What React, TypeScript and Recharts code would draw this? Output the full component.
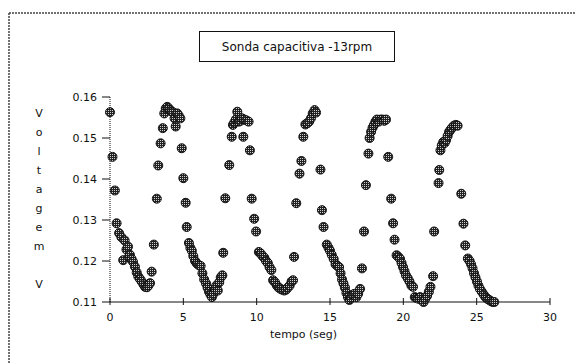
import React from 'react';
import { ScatterChart, Scatter, XAxis, YAxis } from 'recharts';

const time = [
  0.0, 0.17, 0.33, 0.45, 0.62, 0.78, 0.9, 1.0, 1.12, 1.23, 1.3, 1.36, 1.47, 1.57, 1.7, 1.82, 1.93, 2.05, 2.16, 2.28,
  2.39, 2.52, 2.62, 2.73, 2.84, 2.99, 3.19, 3.29, 3.45, 3.6, 3.7, 3.8, 3.9, 4.0, 4.1, 4.2, 4.3, 4.4, 4.48, 4.58,
  4.68, 4.8, 4.89, 5.0, 5.16, 5.23, 5.38, 5.48, 5.58, 5.68, 5.8, 5.92, 6.05, 6.18, 6.3, 6.42, 6.55, 6.65, 6.75, 6.85,
  6.95, 7.05, 7.15, 7.25, 7.35, 7.45, 7.55, 7.66, 7.72, 7.86, 8.13, 8.3, 8.38, 8.48, 8.58, 8.68, 8.78, 8.9, 9.0, 9.09,
  9.15, 9.3, 9.45, 9.54, 9.66, 9.83, 9.96, 10.15, 10.28, 10.4, 10.52, 10.64, 10.76, 10.88, 11.0, 11.12, 11.25, 11.38, 11.5, 11.62,
  11.75, 11.88, 12.0, 12.12, 12.25, 12.38, 12.48, 12.55, 12.7, 12.92, 13.05, 13.18, 13.32, 13.45, 13.58, 13.7, 13.82, 13.95, 14.05, 14.35,
  14.45, 14.56, 14.78, 14.9, 15.0, 15.12, 15.25, 15.38, 15.5, 15.62, 15.72, 15.82, 15.92, 16.02, 16.12, 16.22, 16.32, 16.42, 16.55, 16.68,
  16.8, 16.92, 17.05, 17.18, 17.32, 17.45, 17.62, 17.7, 17.8, 17.9, 18.0, 18.1, 18.2, 18.32, 18.45, 18.58, 18.7, 18.82, 18.97, 19.17,
  19.3, 19.4, 19.54, 19.66, 19.78, 19.88, 19.98, 20.08, 20.18, 20.3, 20.42, 20.55, 20.66, 20.78, 20.9, 21.02, 21.14, 21.26, 21.38, 21.5,
  21.62, 21.74, 21.85, 22.03, 22.1, 22.4, 22.45, 22.53, 22.62, 22.72, 22.82, 22.92, 23.02, 23.12, 23.22, 23.32, 23.45, 23.58, 23.7, 23.95,
  24.1, 24.22, 24.4, 24.52, 24.62, 24.72, 24.82, 24.92, 25.02, 25.12, 25.22, 25.35, 25.48, 25.6, 25.72, 25.85, 25.98, 26.1, 26.2,
];

const voltage = [
  0.1563, 0.1454, 0.1372, 0.1292, 0.1268, 0.1258, 0.1202, 0.125, 0.1228, 0.1235, 0.121, 0.1215, 0.1205, 0.1198, 0.1186, 0.1172, 0.1162, 0.1156, 0.115, 0.1143,
  0.1137, 0.1136, 0.114, 0.1146, 0.1174, 0.124, 0.1352, 0.1433, 0.1487, 0.1524, 0.156, 0.1572, 0.1576, 0.1572, 0.1568, 0.1565, 0.1562, 0.1548, 0.1528, 0.156,
  0.1555, 0.1548, 0.1475, 0.1402, 0.1342, 0.1283, 0.1244, 0.1232, 0.1225, 0.1212, 0.12, 0.1194, 0.119, 0.1188, 0.117, 0.1155, 0.1145, 0.1135, 0.1125, 0.1118,
  0.1112, 0.112, 0.113, 0.114, 0.1128, 0.1148, 0.116, 0.1165, 0.122, 0.1353, 0.1434, 0.1503, 0.1532, 0.1538, 0.1545, 0.1564, 0.154, 0.1542, 0.1548, 0.1503,
  0.1545, 0.1543, 0.154, 0.147, 0.1352, 0.1303, 0.1272, 0.1222, 0.1218, 0.1212, 0.1208, 0.12, 0.1195, 0.1185, 0.1178, 0.1153, 0.1148, 0.114, 0.1135, 0.1132,
  0.113, 0.1128, 0.113, 0.1135, 0.114, 0.115, 0.1153, 0.121, 0.1341, 0.1413, 0.1444, 0.1503, 0.1533, 0.1536, 0.154, 0.1548, 0.156, 0.1568, 0.1562, 0.1423,
  0.1324, 0.1283, 0.124, 0.1232, 0.1225, 0.1215, 0.1205, 0.1192, 0.1188, 0.1185, 0.117, 0.1155, 0.1145, 0.1135, 0.1122, 0.1112, 0.1105, 0.111, 0.1118, 0.112,
  0.1112, 0.112, 0.1132, 0.1182, 0.1272, 0.1385, 0.1462, 0.15, 0.1515, 0.1525, 0.1532, 0.154, 0.1545, 0.154, 0.1545, 0.1545, 0.1542, 0.1545, 0.1454, 0.1352,
  0.1292, 0.1252, 0.1214, 0.121, 0.1205, 0.1195, 0.1185, 0.1175, 0.1165, 0.1158, 0.115, 0.114, 0.1137, 0.1112, 0.111, 0.1108, 0.1112, 0.1105, 0.11, 0.1108,
  0.1115, 0.1125, 0.1137, 0.1163, 0.1272, 0.139, 0.1422, 0.147, 0.1482, 0.149, 0.1488, 0.1495, 0.1505, 0.1515, 0.152, 0.1525, 0.153, 0.1532, 0.153, 0.1364,
  0.1291, 0.1238, 0.1206, 0.12, 0.1192, 0.1182, 0.117, 0.116, 0.115, 0.114, 0.1132, 0.1125, 0.1118, 0.1112, 0.1108, 0.1105, 0.1102, 0.11, 0.11,
];

const xTicks = [0, 5, 10, 15, 20, 25, 30];
const yTicks = [0.11, 0.12, 0.13, 0.14, 0.15, 0.16];
const title = 'Sonda capacitiva -13rpm';
const yLabel = ['V', 'o', 'l', 't', 'a', 'g', 'e', 'm', '', 'V'];
const xLabel = 'tempo (seg)';

const points = time.map((t, i) => ({ t, v: voltage[i] }));

const font = "'DejaVu Sans', sans-serif";

function Dot(props: any) {
  const { cx, cy } = props;
  return <circle cx={cx} cy={cy} r={4.5} fill="url(#dither)" stroke="#111" strokeWidth={1} />;
}

function XTick(props: any) {
  const { x, y, payload } = props;
  return (
    <g>
      <line x1={x} x2={x} y1={y - 4} y2={y + 3} stroke="#111" />
      <text x={x} y={y + 19} textAnchor="middle" fontSize={11} fontFamily={font} fill="#111">
        {payload.value}
      </text>
    </g>
  );
}

function YLabel(props: any) {
  const { viewBox } = props;
  const top = viewBox.y + 20;
  return (
    <g>
      {yLabel.map((c, i) => (
        <text key={i} x={39} y={top + i * 19} textAnchor="middle" fontSize={11} fontFamily={font} fill="#111">
          {c}
        </text>
      ))}
    </g>
  );
}

function XLabel(props: any) {
  const { viewBox } = props;
  return (
    <text x={viewBox.x + viewBox.width * 0.44} y={viewBox.y + 36} textAnchor="middle" fontSize={11} fontFamily={font} fill="#111">
      {xLabel}
    </text>
  );
}

export default function App() {
  return (
    <div style={{ position: 'absolute', left: 0, top: 0, width: 575, height: 363, background: '#fff' }}>
      <svg width={575} height={363} style={{ position: 'absolute', left: 0, top: 0 }}>
        <line x1={9} y1={13} x2={575} y2={13} stroke="#444" strokeWidth={1.5} strokeDasharray="2 1" />
        <line x1={9} y1={13} x2={9} y2={363} stroke="#444" strokeWidth={1.5} strokeDasharray="2 1" />
        <rect x={199.5} y={31.5} width={195} height={30} fill="#fff" stroke="#111" />
        <text x={297} y={51} textAnchor="middle" fontSize={12} fontFamily={font} fill="#111">
          {title}
        </text>
      </svg>
      <div style={{ position: 'absolute', left: 0, top: 0 }}>
        <ScatterChart width={575} height={363} margin={{ top: 97, right: 25, bottom: 31, left: 0 }}>
          <defs>
            <pattern id="dither" width={2} height={2} patternUnits="userSpaceOnUse">
              <rect width={2} height={2} fill="#222" />
              <rect width={1} height={1} fill="#d0d0d0" />
            </pattern>
          </defs>
          <XAxis
            type="number"
            dataKey="t"
            domain={[0, 30]}
            ticks={xTicks}
            height={30}
            tickSize={0}
            tickMargin={0}
            tick={<XTick />}
            axisLine={{ stroke: '#111' }}
            label={<XLabel />}
          />
          <YAxis
            type="number"
            dataKey="v"
            domain={[0.11, 0.16]}
            ticks={yTicks}
            width={110}
            tickSize={8}
            tickMargin={5}
            tickFormatter={(v: number) => v.toFixed(2)}
            tick={{ fontSize: 11, fontFamily: font, fill: '#111' }}
            tickLine={{ stroke: '#111' }}
            axisLine={{ stroke: '#111', strokeDasharray: '1 1' }}
            label={<YLabel />}
          />
          <Scatter data={points} shape={<Dot />} isAnimationActive={false} />
        </ScatterChart>
      </div>
    </div>
  );
}
